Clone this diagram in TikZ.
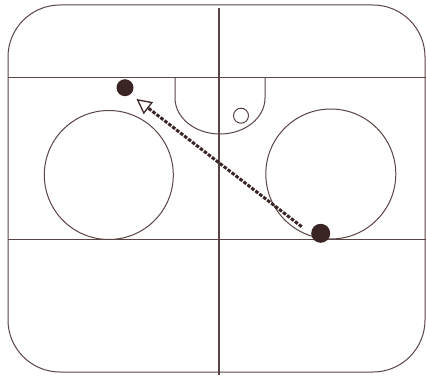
\documentclass[tikz,border=0pt]{standalone}
\usetikzlibrary{arrows.meta}
\definecolor{ink}{HTML}{5A4444}
\definecolor{dotc}{HTML}{3A2424}
\begin{document}
\begin{tikzpicture}[x=1pt,y=-1pt,
  rink/.style={draw=ink,line width=1pt},
  dotnode/.style={circle,fill=dotc,inner sep=0pt,minimum size=17pt},
  pass/.style={draw=dotc,line width=3pt,dash pattern=on 3.5pt off 1.5pt,
     -{Triangle[open,length=15pt,width=15pt,line width=1.3pt]}}]
\useasboundingbox (0,0) rectangle (426,377);
\fill[white] (0,0) rectangle (426,377);
% outer boards
\draw[rink,rounded corners=52pt] (8,5) rectangle (425,372);
% lines
\draw[rink] (8,77.7) -- (426,77.7);
\draw[rink] (8,239) -- (426,239);
\draw[draw=ink,line width=1.5pt] (219,8) -- (219,375);
% circles
\draw[rink] (108.8,175) circle[radius=64.5];
\draw[rink] (330.8,174) circle[radius=65];
% crease
\draw[rink] (175,77.7) -- (175,98) arc[start angle=180,end angle=360,x radius=45,y radius=-36] -- (265,77.7);
\draw[rink] (241,115.7) circle[radius=7.5];
% players
\node[dotnode] (p1) at (125,87.7) {};
\node[dotnode,minimum size=19pt] (p2) at (320.7,233.3) {};
\coordinate (s) at (301.7,226.7);
\coordinate (e) at (136.5,99);
\draw[pass] (s) -- (e);
\end{tikzpicture}
\end{document}
